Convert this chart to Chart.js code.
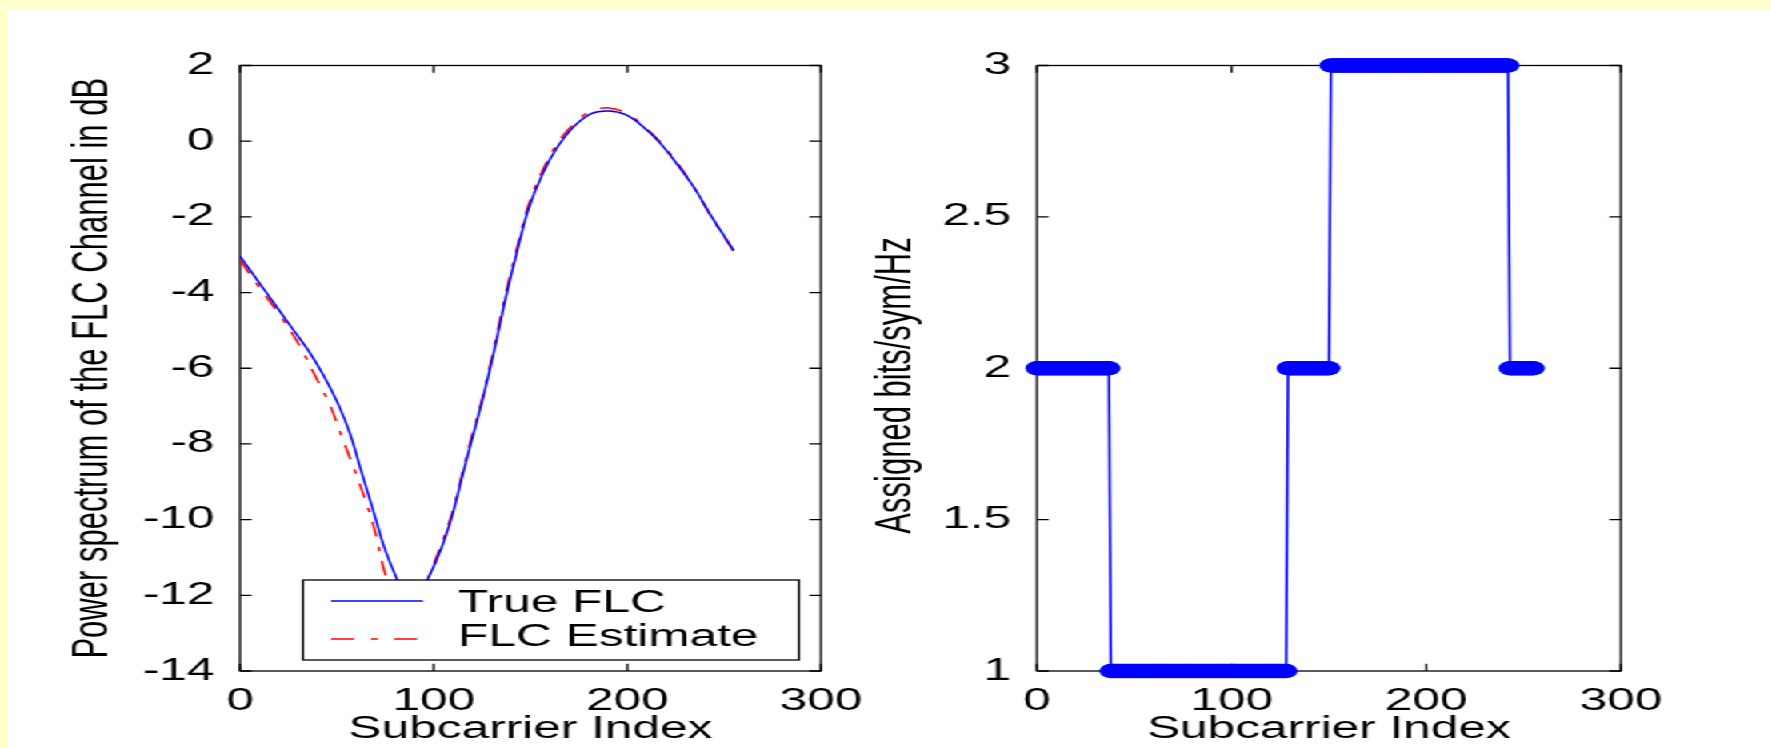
<!DOCTYPE html>
<html>
<head>
<meta charset="utf-8">
<script src="https://cdn.jsdelivr.net/npm/chart.js@4.4.1/dist/chart.umd.min.js"></script>
<style>
    html, body { margin: 0; padding: 0; overflow: hidden; background: #ffffcc; }
    #panel { position: absolute; left: 7px; top: 9px; right: 0; bottom: 0; background: #ffffff; }
    /* the original figure is stretched sideways, so draw narrow and widen */
    #stage { position: absolute; left: 0; top: 0; width: 1107px; height: 748px; transform: scaleX(1.6); transform-origin: 0 0; }
    .box { position: absolute; left: 0; top: 0; width: 1107px; height: 748px; }
</style>
</head>
<body>
<div id="panel"></div>
<div id="stage">
    <div class="box"><canvas id="flcChart"></canvas></div>
    <div class="box"><canvas id="bitsChart"></canvas></div>
</div>
<script>
// Left panel: power spectrum of the FLC channel (dB) vs subcarrier index
const trueX = [0, 9.5, 18.4, 27.3, 36.2, 43.6, 51, 56.9, 62.8, 68.8, 74.7, 80.6, 85, 88.5, 92, 96.9, 101.4, 105.8, 110.3, 114.7, 119.2, 125.1, 131, 136.9, 142.9, 148.8, 156.2, 163.6, 172.5, 181.4, 190.3, 199.2, 208, 217, 225.9, 234.8, 243.6, 255];
const trueY = [-3.04, -3.71, -4.34, -4.97, -5.6, -6.23, -6.98, -7.74, -8.75, -9.76, -10.76, -11.52, -12.05, -12.3, -12.15, -11.58, -11.08, -10.5, -9.76, -8.87, -7.99, -6.86, -5.6, -4.21, -2.95, -1.82, -0.87, -0.18, 0.39, 0.73, 0.8, 0.7, 0.39, -0.05, -0.62, -1.25, -2.0, -2.89];

const estX = [0, 9.5, 21.3, 30.2, 39.1, 46.5, 53.9, 61.4, 68.8, 74.7, 79, 84, 88, 92, 96.9, 101.4, 105.8, 110.3, 114.7, 119.2, 125.1, 131, 136.9, 142.9, 148.8, 156.2, 163.6, 172.5, 181.4, 190.3, 199.2, 208, 217, 225.9, 234.8, 243.6, 255];
const estY = [-3.14, -3.83, -4.65, -5.35, -6.23, -6.98, -7.99, -9.0, -10.13, -11.39, -12.0, -12.5, -12.6, -12.3, -11.6, -11.0, -10.4, -9.7, -8.8, -7.9, -6.8, -5.5, -4.1, -2.85, -1.72, -0.78, -0.08, 0.47, 0.8, 0.88, 0.75, 0.42, -0.02, -0.58, -1.25, -2.02, -2.92];

// Right panel: assigned bits per subcarrier, read as runs of equal value
const bitRunStart = [0, 38, 129, 151, 243];
const bitRunEnd = [37, 128, 150, 242, 255];
const bitRunLevel = [2, 1, 2, 3, 2];

const legendLabels = ['True FLC', 'FLC Estimate'];

const FONT = '"Liberation Sans", Arial, Helvetica, sans-serif';
const TICK_LEN = 7.3;
const EST_DASH = [14.4, 10.6, 4.4, 10];

Chart.defaults.font.family = FONT;
Chart.defaults.font.size = 31;
Chart.defaults.color = '#000';

const pairs = (xs, ys) => xs.map((x, i) => ({ x: x, y: ys[i] }));

const bitPoints = [];
bitRunStart.forEach((s, r) => {
    for (let k = s; k <= bitRunEnd[r]; k++) bitPoints.push({ x: k, y: bitRunLevel[r] });
});

// box round the plot with inward ticks on all four sides
const matlabAxes = {
    id: 'matlabAxes',
    beforeDatasetsDraw(chart) {
        const { ctx, chartArea: a, scales: { x, y } } = chart;
        ctx.save();
        ctx.strokeStyle = '#000';
        ctx.lineWidth = 1.3;
        ctx.strokeRect(a.left, a.top, a.right - a.left, a.bottom - a.top);
        ctx.beginPath();
        x.ticks.forEach(t => {
            const px = x.getPixelForValue(t.value);
            ctx.moveTo(px, a.bottom); ctx.lineTo(px, a.bottom - TICK_LEN);
            ctx.moveTo(px, a.top); ctx.lineTo(px, a.top + TICK_LEN);
        });
        y.ticks.forEach(t => {
            const py = y.getPixelForValue(t.value);
            ctx.moveTo(a.left, py); ctx.lineTo(a.left + TICK_LEN, py);
            ctx.moveTo(a.right, py); ctx.lineTo(a.right - TICK_LEN, py);
        });
        ctx.stroke();
        ctx.restore();
    }
};

// opaque legend box in the lower right of the plot, on top of the lines
const boxLegend = {
    id: 'boxLegend',
    afterDatasetsDraw(chart) {
        const { ctx, chartArea: a } = chart;
        const w = 310, h = 80;
        const left = a.right - 13.7 - w;
        const top = a.bottom - 11 - h;
        ctx.save();
        ctx.fillStyle = '#fff';
        ctx.fillRect(left, top, w, h);
        ctx.strokeStyle = '#000';
        ctx.lineWidth = 1.3;
        ctx.strokeRect(left, top, w, h);

        const ds = chart.data.datasets;
        const rows = [{ line: top + 21, base: top + 32 }, { line: top + 59, base: top + 66 }];
        rows.forEach((r, i) => {
            ctx.beginPath();
            ctx.strokeStyle = ds[i].borderColor;
            ctx.lineWidth = 1.5;
            ctx.setLineDash(ds[i].borderDash || []);
            ctx.moveTo(left + 17.5, r.line);
            ctx.lineTo(left + 75, r.line);
            ctx.stroke();
            ctx.setLineDash([]);
            ctx.fillStyle = '#000';
            ctx.font = '31px ' + FONT;
            ctx.textAlign = 'left';
            ctx.textBaseline = 'alphabetic';
            ctx.fillText(legendLabels[i], left + 96.9, r.base);
        });
        ctx.restore();
    }
};

function xAxis() {
    return {
        type: 'linear',
        min: 0, max: 300,
        grid: { display: false },
        border: { display: false },
        ticks: { stepSize: 100, padding: 4, maxRotation: 0, autoSkip: false },
        title: { display: true, text: 'Subcarrier Index', font: { size: 31 }, padding: { top: 0, bottom: 0 } },
        afterFit(scale) { scale.height = 77; }
    };
}

new Chart(document.getElementById('flcChart'), {
    type: 'line',
    data: {
        datasets: [{
            label: legendLabels[0],
            data: pairs(trueX, trueY),
            borderColor: '#0000ff',
            borderWidth: 1.5,
            tension: 0.35,
            pointRadius: 0
        }, {
            label: legendLabels[1],
            data: pairs(estX, estY),
            borderColor: '#ff0000',
            borderWidth: 1.5,
            borderDash: EST_DASH,
            tension: 0.35,
            pointRadius: 0
        }]
    },
    options: {
        responsive: true,
        maintainAspectRatio: false,
        animation: false,
        layout: { padding: { left: 0, right: 593.9, top: 65.5, bottom: 0 } },
        plugins: { legend: { display: false }, tooltip: { enabled: false } },
        scales: {
            x: xAxis(),
            y: {
                type: 'linear',
                min: -14, max: 2,
                grid: { display: false },
                border: { display: false },
                ticks: { stepSize: 2, padding: 8 },
                title: { display: true, text: 'Power spectrum of the FLC Channel in dB', font: { size: 31 }, padding: { top: 40, bottom: 0 } },
                afterFit(scale) { scale.width = 150; }
            }
        }
    },
    plugins: [matlabAxes, boxLegend]
});

new Chart(document.getElementById('bitsChart'), {
    type: 'line',
    data: {
        datasets: [{
            data: bitPoints,
            borderColor: '#0000ff',
            borderWidth: 1.6,
            pointRadius: 7.2,
            pointBorderWidth: 0,
            pointBackgroundColor: '#0000ff',
            tension: 0,
            clip: false
        }]
    },
    options: {
        responsive: true,
        maintainAspectRatio: false,
        animation: false,
        layout: { padding: { left: 498, right: 93.9, top: 65.5, bottom: 0 } },
        plugins: { legend: { display: false }, tooltip: { enabled: false } },
        scales: {
            x: xAxis(),
            y: {
                type: 'linear',
                min: 1, max: 3,
                grid: { display: false },
                border: { display: false },
                ticks: { stepSize: 0.5, padding: 8, callback: v => String(v) },
                // trailing spaces push the label down a little, as in the figure
                title: { display: true, text: 'Assigned bits/sym/Hz    ', font: { size: 31 }, padding: { top: 44, bottom: 0 } },
                afterFit(scale) { scale.width = 150.1; }
            }
        }
    },
    plugins: [matlabAxes]
});
</script>
</body>
</html>
